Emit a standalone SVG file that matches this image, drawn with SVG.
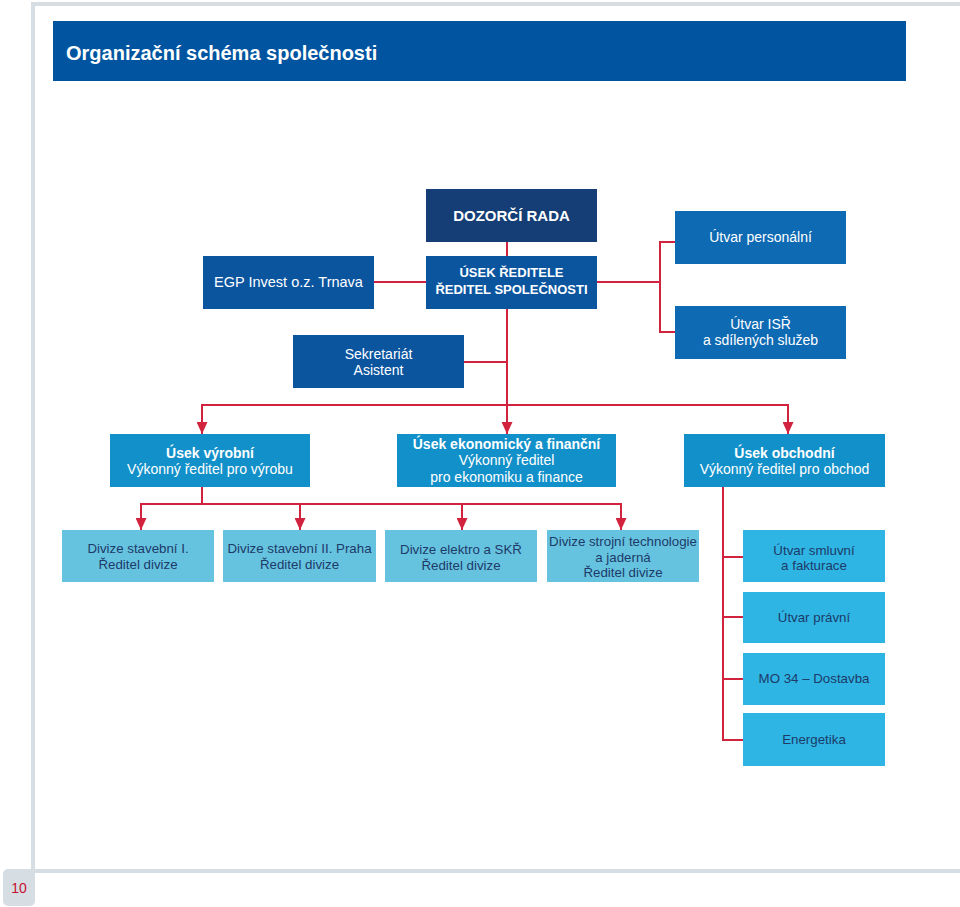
<svg xmlns="http://www.w3.org/2000/svg" width="960" height="907" viewBox="0 0 960 907">
<defs>
<style>
.t{font-family:"Liberation Sans",Arial,sans-serif;text-anchor:middle;}
.w{fill:#ffffff;}
.d{fill:#1d3a68;}
.b{font-weight:bold;}
.c{fill:none;stroke:#d2233e;stroke-width:2;}
.frame{fill:#d6dde3;}
.n1{fill:#0b559f;}
.n1b{fill:#0e6ab3;}
.n2{fill:#1290c9;}
.n3{fill:#66c3e0;}
.n4{fill:#2eb5e4;}
</style>
<marker id="ar" viewBox="0 0 12 11" refX="12" refY="5.5" markerWidth="12" markerHeight="11" markerUnits="userSpaceOnUse" orient="auto">
<path d="M0,0 L12,5.5 L0,11 Z" fill="#d2233e"/>
</marker>
</defs>
<rect width="960" height="907" fill="#ffffff"/>
<!-- page frame -->
<rect class="frame" x="31" y="2" width="929" height="4"/>
<rect class="frame" x="31" y="2" width="4" height="871"/>
<rect class="frame" x="31" y="869" width="929" height="4"/>
<rect class="frame" x="3" y="869" width="32" height="37" rx="5"/>
<text class="t" x="19" y="893" font-size="14" fill="#c8102e">10</text>
<!-- title -->
<rect x="53" y="21" width="853" height="60" fill="#0054a0"/>
<text x="66" y="60" font-family="Liberation Sans,Arial,sans-serif" font-size="20" font-weight="bold" fill="#ffffff">Organizační schéma společnosti</text>

<g id="connectors">
<line class="c" x1="507" y1="242" x2="507" y2="256"/>
<line class="c" x1="374" y1="282" x2="426" y2="282"/>
<line class="c" x1="597" y1="282" x2="660" y2="282"/>
<polyline class="c" points="675,242 660,242 660,332 675,332"/>
<line class="c" x1="464" y1="362" x2="507" y2="362"/>
<line class="c" x1="507" y1="309" x2="507" y2="434" marker-end="url(#ar)"/>
<polyline class="c" points="202,434 202,405 788,405 788,434" marker-end="url(#ar)"/>
<polyline class="c" points="202,405 202,434" marker-end="url(#ar)"/>
<line class="c" x1="202" y1="487" x2="202" y2="504"/>
<polyline class="c" points="141,530 141,504 621,504 621,530" marker-end="url(#ar)"/>
<line class="c" x1="141" y1="504" x2="141" y2="530" marker-end="url(#ar)"/>
<line class="c" x1="300" y1="504" x2="300" y2="530" marker-end="url(#ar)"/>
<line class="c" x1="462" y1="504" x2="462" y2="530" marker-end="url(#ar)"/>
<line class="c" x1="723" y1="487" x2="723" y2="740"/>
<line class="c" x1="722" y1="557" x2="743" y2="557"/>
<line class="c" x1="722" y1="617" x2="743" y2="617"/>
<line class="c" x1="722" y1="679" x2="743" y2="679"/>
<line class="c" x1="722" y1="740" x2="743" y2="740"/>
</g>

<g id="dozorci-rada">
<rect x="426" y="189" width="171" height="53" fill="#143e75"/>
<text class="t w b" x="511.5" y="221" font-size="15">DOZORČÍ RADA</text>
</g>
<g id="usek-reditele">
<rect class="n1" x="426" y="256" width="171" height="53"/>
<text class="t w b" x="511.5" y="277" font-size="13">ÚSEK ŘEDITELE</text>
<text class="t w b" x="511.5" y="294" font-size="13">ŘEDITEL SPOLEČNOSTI</text>
</g>
<g id="egp-invest">
<rect class="n1" x="203" y="256" width="171" height="53"/>
<text class="t w" x="288.5" y="287" font-size="14.5">EGP Invest o.z. Trnava</text>
</g>
<g id="sekretariat">
<rect class="n1" x="293" y="335" width="171" height="53"/>
<text class="t w" x="378.5" y="359" font-size="14">Sekretariát</text>
<text class="t w" x="378.5" y="375" font-size="14">Asistent</text>
</g>
<g id="utvar-personalni">
<rect class="n1b" x="675" y="211" width="171" height="53"/>
<text class="t w" x="760.5" y="242" font-size="14">Útvar personální</text>
</g>
<g id="utvar-isr">
<rect class="n1b" x="675" y="306" width="171" height="53"/>
<text class="t w" x="760.5" y="329" font-size="14">Útvar ISŘ</text>
<text class="t w" x="760.5" y="345" font-size="14">a sdílených služeb</text>
</g>

<g id="usek-vyrobni">
<rect class="n2" x="110" y="434" width="200" height="53"/>
<text class="t w b" x="210" y="458" font-size="14">Úsek výrobní</text>
<text class="t w" x="210" y="474" font-size="14">Výkonný ředitel pro výrobu</text>
</g>
<g id="usek-ekonomicky">
<rect class="n2" x="397" y="434" width="219" height="53"/>
<text class="t w b" x="506.5" y="449" font-size="14">Úsek ekonomický a finanční</text>
<text class="t w" x="506.5" y="465" font-size="14">Výkonný ředitel</text>
<text class="t w" x="506.5" y="482" font-size="14">pro ekonomiku a finance</text>
</g>
<g id="usek-obchodni">
<rect class="n2" x="684" y="434" width="201" height="53"/>
<text class="t w b" x="784.5" y="458" font-size="14">Úsek obchodní</text>
<text class="t w" x="784.5" y="474" font-size="14">Výkonný ředitel pro obchod</text>
</g>

<g id="divize-1">
<rect class="n3" x="62" y="530" width="152" height="52"/>
<text class="t d" x="138" y="553" font-size="13.3">Divize stavební I.</text>
<text class="t d" x="138" y="569" font-size="13.3">Ředitel divize</text>
</g>
<g id="divize-2">
<rect class="n3" x="223" y="530" width="153" height="52"/>
<text class="t d" x="299.5" y="553" font-size="13.3">Divize stavební II. Praha</text>
<text class="t d" x="299.5" y="569" font-size="13.3">Ředitel divize</text>
</g>
<g id="divize-elektro">
<rect class="n3" x="385" y="530" width="152" height="52"/>
<text class="t d" x="461" y="554" font-size="13.3">Divize elektro a SKŘ</text>
<text class="t d" x="461" y="570" font-size="13.3">Ředitel divize</text>
</g>
<g id="divize-strojni">
<rect class="n3" x="547" y="530" width="152" height="52"/>
<text class="t d" x="623" y="546" font-size="13.3">Divize strojní technologie</text>
<text class="t d" x="623" y="562" font-size="13.3">a jaderná</text>
<text class="t d" x="623" y="577" font-size="13.3">Ředitel divize</text>
</g>

<g id="utvar-smluvni">
<rect class="n4" x="743" y="530" width="142" height="52"/>
<text class="t d" x="814" y="555" font-size="13.3">Útvar smluvní</text>
<text class="t d" x="814" y="570" font-size="13.3">a fakturace</text>
</g>
<g id="utvar-pravni">
<rect class="n4" x="743" y="592" width="142" height="51"/>
<text class="t d" x="814" y="622" font-size="13.3">Útvar právní</text>
</g>
<g id="mo34">
<rect class="n4" x="743" y="653" width="142" height="52"/>
<text class="t d" x="814" y="683" font-size="13.3">MO 34 – Dostavba</text>
</g>
<g id="energetika">
<rect class="n4" x="743" y="713" width="142" height="53"/>
<text class="t d" x="814" y="744" font-size="13.3">Energetika</text>
</g>
</svg>
